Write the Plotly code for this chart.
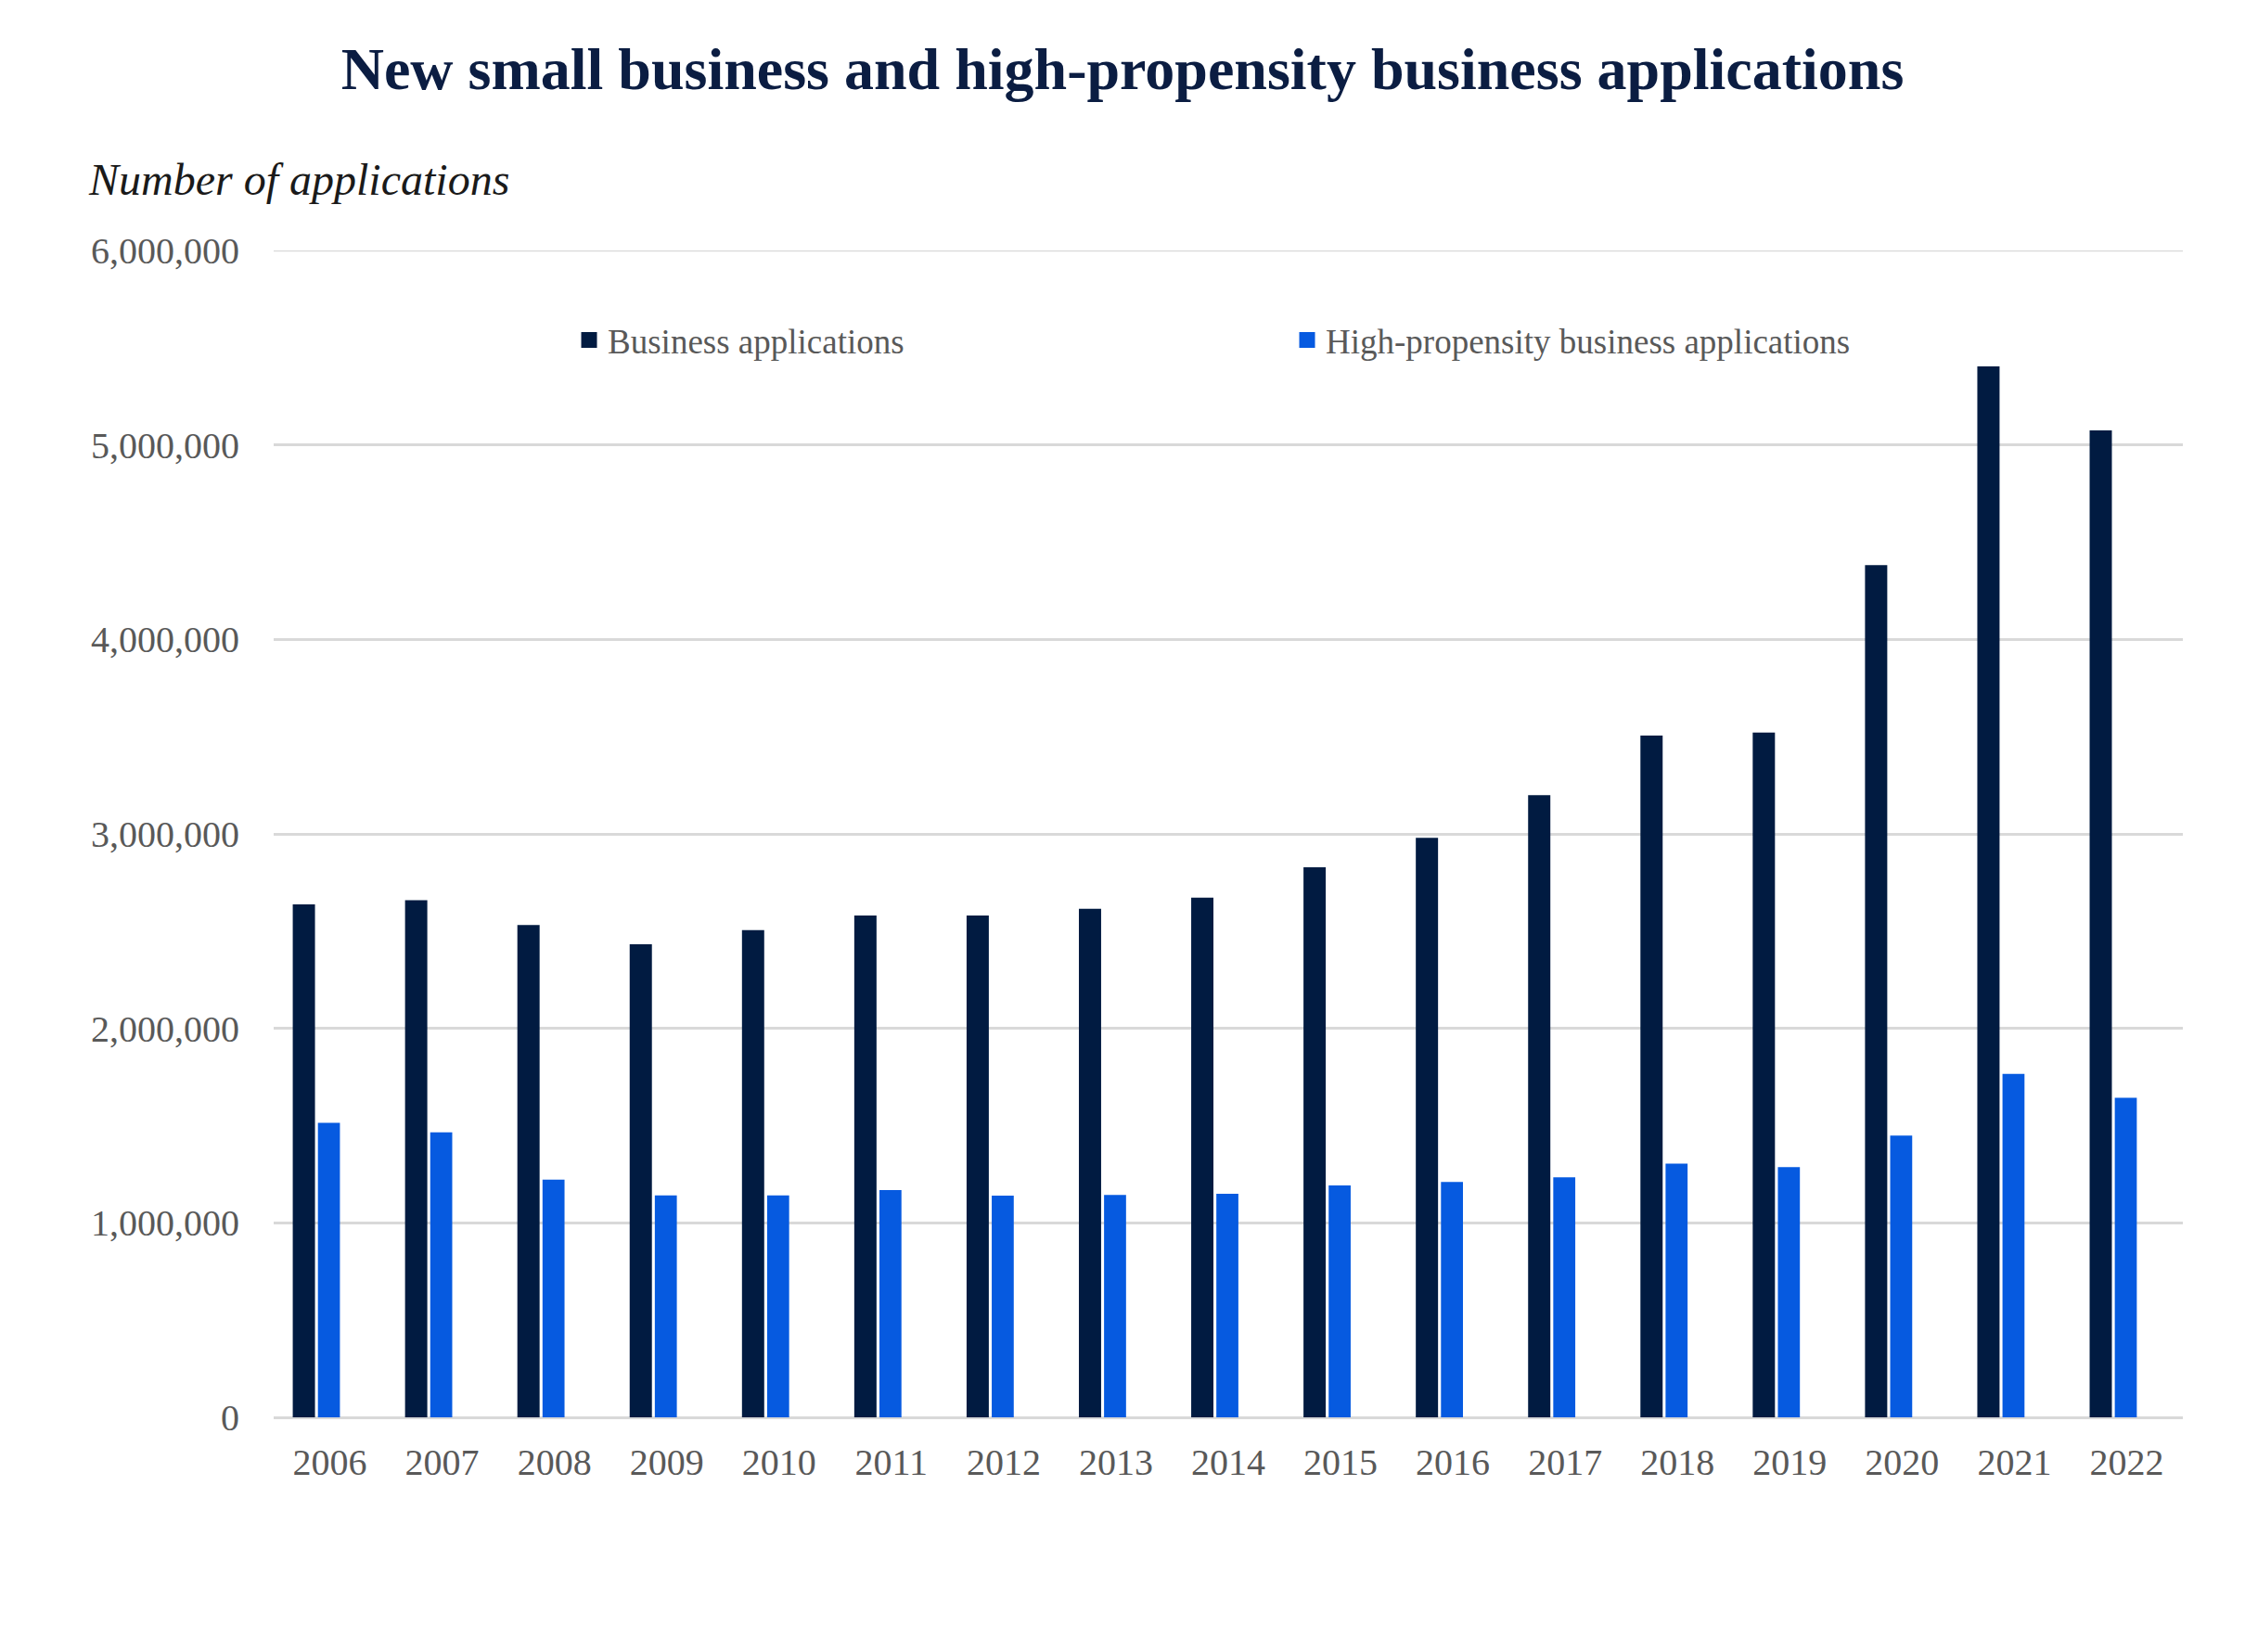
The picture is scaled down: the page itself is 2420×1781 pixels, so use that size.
import plotly.graph_objects as go

years = ["2006", "2007", "2008", "2009", "2010", "2011", "2012", "2013", "2014",
         "2015", "2016", "2017", "2018", "2019", "2020", "2021", "2022"]
business_apps = [2638000, 2659000, 2531000, 2433000, 2505000, 2580000, 2580000,
                 2615000, 2672000, 2828000, 2980000, 3199000, 3506000, 3521000,
                 4382000, 5404000, 5075000]
high_prop_apps = [1514000, 1465000, 1222000, 1141000, 1141000, 1168000, 1140000,
                  1144000, 1149000, 1192000, 1210000, 1234000, 1305000, 1286000,
                  1449000, 1766000, 1643000]
y_ticks = [0, 1000000, 2000000, 3000000, 4000000, 5000000, 6000000]
series_names = ["Business applications", "High-propensity business applications"]

FONT = "Liberation Serif, Times New Roman, serif"
DARK = "#011b41"
BLUE = "#065ae0"
GRID = "#d9d9d9"

fig = go.Figure()
fig.add_trace(go.Bar(x=years, y=business_apps, name=series_names[0],
                     marker=dict(color=DARK, line=dict(width=0)),
                     width=0.198, offset=-0.33, showlegend=False, legendgroup="a"))
fig.add_trace(go.Bar(x=years, y=high_prop_apps, name=series_names[1],
                     marker=dict(color=BLUE, line=dict(width=0)),
                     width=0.196, offset=-0.106, showlegend=False, legendgroup="b"))
# legend-only entries (larger swatches)
fig.add_trace(go.Bar(x=[years[0]], y=[None], name=series_names[0], legendgroup="a",
                     marker=dict(color=DARK, line=dict(width=5, color=DARK)), hoverinfo="skip"))
fig.add_trace(go.Bar(x=[years[0]], y=[None], name=series_names[1], legendgroup="b",
                     marker=dict(color=BLUE, line=dict(width=5, color=BLUE)), hoverinfo="skip"))

fig.update_layout(
    width=2420, height=1781,
    paper_bgcolor="white", plot_bgcolor="white",
    barmode="overlay",
    margin=dict(l=295, r=67, t=270, b=253, autoexpand=False),
    title=dict(text="<b>New small business and high-propensity business applications</b>",
               x=0.5, xanchor="center", y=1 - 74 / 1781, yanchor="middle",
               font=dict(family=FONT, size=64, color="#0b1d42")),
    legend=dict(orientation="h", x=0.1555, xanchor="left", y=0.923, yanchor="middle",
                entrywidth=729, entrywidthmode="pixels",
                font=dict(family=FONT, size=37, color="#595959"),
                bgcolor="rgba(0,0,0,0)", traceorder="normal"),
    xaxis=dict(type="category", showgrid=False, showline=False, zeroline=False,
               tickfont=dict(family=FONT, size=40, color="#595959"),
               ticks="outside", ticklen=13, tickcolor="rgba(0,0,0,0)"),
    yaxis=dict(range=[y_ticks[0], y_ticks[-1]], tickvals=y_ticks, tickformat=",",
               showgrid=True, gridcolor=GRID, gridwidth=2.5,
               zeroline=True, zerolinecolor=GRID, zerolinewidth=2.5,
               showline=False,
               tickfont=dict(family=FONT, size=40, color="#595959"),
               ticks="outside", ticklen=28, tickcolor="rgba(0,0,0,0)"),
    shapes=[dict(type="line", xref="paper", x0=0, x1=1, yref="y",
                 y0=y_ticks[-1], y1=y_ticks[-1], layer="below",
                 line=dict(color=GRID, width=2.5))],
    annotations=[dict(text="<i>Number of applications</i>", xref="paper", yref="paper",
                      x=(93 - 295) / 2058, xanchor="left",
                      y=1 + (270 - 193) / 1258, yanchor="middle", showarrow=False,
                      font=dict(family=FONT, size=48, color="#1a1a1a"))],
)

fig.write_html("out.html", config={"displayModeBar": False},
               post_script="document.body.style.margin='0';")
